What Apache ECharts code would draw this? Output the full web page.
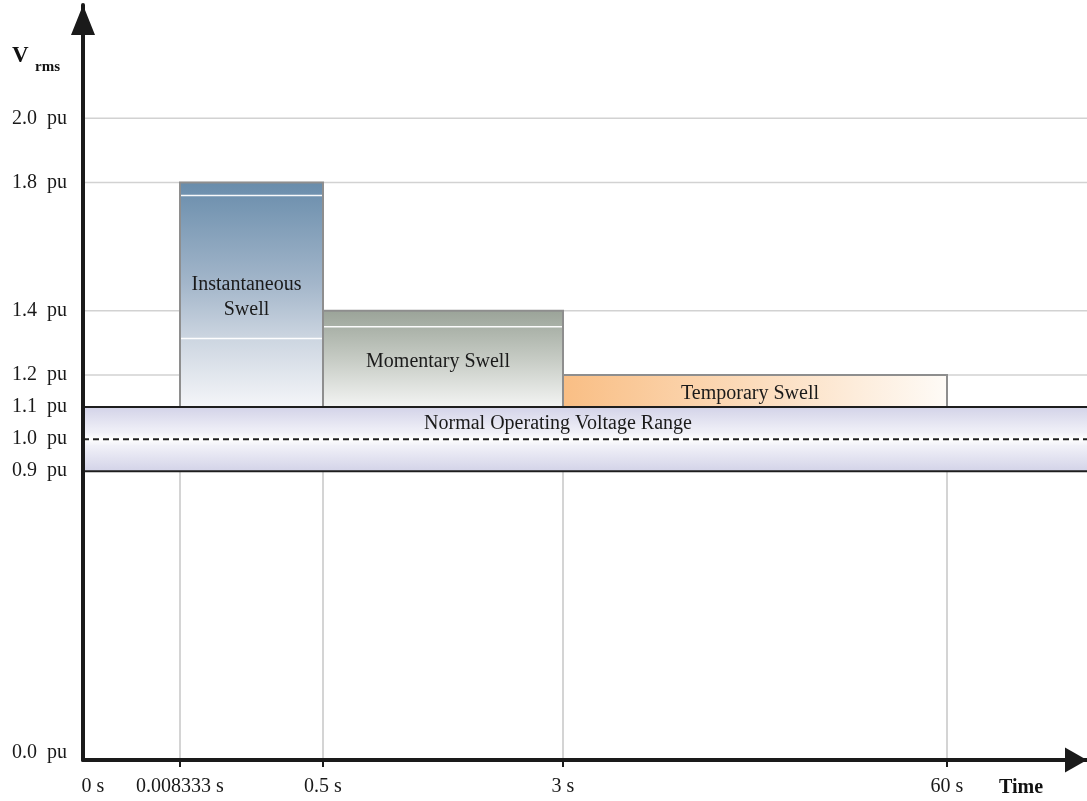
<!DOCTYPE html>
<html>
<head>
<meta charset="utf-8">
<script src="https://cdn.jsdelivr.net/npm/echarts@6/dist/echarts.min.js"></script>
<style>
html,body{margin:0;padding:0;background:#fff;}
#chart{width:1087px;height:801px;}
</style>
</head>
<body>
<div id="chart"></div>
<script>
// ---- data ----
const timeLabels = ['0 s', '0.008333 s', '0.5 s', '3 s', '60 s'];
const timePos = [0, 97, 240, 480, 864];           // schematic (non-uniform) time axis positions
const xAxisEnd = 1004;
const yTickValues = [0, 0.9, 1.0, 1.1, 1.2, 1.4, 1.8, 2.0];
const yGridValues = [1.2, 1.4, 1.8, 2.0];
const swellNames = ['Instantaneous\nSwell', 'Momentary Swell', 'Temporary Swell'];
const swellFrom = [1, 2, 3];   // index into timePos
const swellTo = [2, 3, 4];
const swellLow = [1.1, 1.1, 1.1];
const swellHigh = [1.8, 1.4, 1.2];
const normalRange = [0.9, 1.1];
const nominal = 1.0;
const normalLabel = 'Normal Operating Voltage Range';

// ---- styles ----
const FONT = '"Liberation Serif", "Times New Roman", serif';
const FS = 20;
const swellFills = [
  {type:'linear', x:0, y:0, x2:0, y2:1, colorStops:[
    {offset:0, color:'#688cab'}, {offset:0.45, color:'#a3b6ca'},
    {offset:0.7, color:'#cdd6e1'}, {offset:1, color:'#f5f6f9'}]},
  {type:'linear', x:0, y:0, x2:0, y2:1, colorStops:[
    {offset:0, color:'#9aa398'}, {offset:0.5, color:'#c6cbc4'}, {offset:1, color:'#f4f5f4'}]},
  {type:'linear', x:0, y:0, x2:1, y2:0, colorStops:[
    {offset:0, color:'#f9be84'}, {offset:0.5, color:'#fcdcbc'}, {offset:1, color:'#fefbf7'}]}
];
const swellSheen = [[0.058, 0.695], [0.167], []];

const swellData = swellNames.map((n, i) => [timePos[swellFrom[i]], timePos[swellTo[i]], swellLow[i], swellHigh[i]]);

const chart = echarts.init(document.getElementById('chart'), null, {renderer:'canvas'});

function hLine(color, width, dash) {
  return function (params, api) {
    const a = api.coord([0, api.value(0)]);
    const b = api.coord([xAxisEnd, api.value(0)]);
    return {type:'line', shape:{x1:a[0], y1:a[1], x2:b[0], y2:b[1]},
      style:{stroke:color, lineWidth:width, lineDash:dash || null}};
  };
}

const option = {
  animation: false,
  backgroundColor: '#ffffff',
  grid: {left: 83, right: 0, top: 5, bottom: 41, containLabel: false},
  xAxis: {
    type: 'value', min: 0, max: xAxisEnd, z: 10,
    axisLine: {show: true, symbol: ['none', 'triangle'], symbolSize: [25, 22], symbolOffset: [0, -11],
      lineStyle: {color: '#1a1a1a', width: 4}},
    axisTick: {show: true, customValues: timePos.slice(1), length: 7, inside: false,
      lineStyle: {color: '#1a1a1a', width: 2}},
    axisLabel: {show: true, customValues: timePos, margin: 17,
      fontFamily: FONT, fontSize: FS, color: '#1a1a1a',
      formatter: function (v) {
        const i = timePos.indexOf(v);
        if (i < 0) return '';
        return i === 0 ? '{z|' + timeLabels[i] + '}' : timeLabels[i];
      },
      rich: {z: {fontFamily: FONT, fontSize: FS, color: '#1a1a1a', padding: [0, 0, 0, 20]}}},
    splitLine: {show: false}
  },
  yAxis: {
    type: 'value', min: 0, max: 2.353, z: 10,
    axisLine: {show: true, onZero: false, symbol: ['none', 'triangle'], symbolSize: [24, 30], symbolOffset: [0, -15],
      lineStyle: {color: '#1a1a1a', width: 4}},
    axisTick: {show: false},
    axisLabel: {show: true, customValues: yTickValues, margin: 16,
      fontFamily: FONT, fontSize: FS, color: '#1a1a1a',
      formatter: function (v) {
        const s = v.toFixed(1) + '  pu';
        return v === 0 ? '{z|' + s + '}' : s;
      },
      rich: {z: {fontFamily: FONT, fontSize: FS, color: '#1a1a1a', padding: [0, 0, 14, 0]}}},
    splitLine: {show: false}
  },
  graphic: [
    {type: 'text', left: 12, top: 45, style: {text: 'V', font: 'bold 23px ' + FONT, fill: '#111'}},
    {type: 'text', left: 35, top: 60, style: {text: 'rms', font: 'bold 15px ' + FONT, fill: '#111'}},
    {type: 'text', left: 999, top: 778, style: {text: 'Time', font: 'bold 20px ' + FONT, fill: '#111'}}
  ],
  series: [
    { // light horizontal grid lines
      type: 'custom', z: 1, clip: false,
      data: yGridValues.map(v => [v]),
      renderItem: hLine('#d2d2d2', 1.5)
    },
    { // light vertical lines from the time axis up to the band
      type: 'custom', z: 1, clip: false,
      data: timePos.slice(1).map(p => [p]),
      renderItem: function (params, api) {
        const a = api.coord([api.value(0), 0]);
        const b = api.coord([api.value(0), normalRange[0]]);
        return {type: 'line', shape: {x1: a[0], y1: a[1], x2: b[0], y2: b[1]},
          style: {stroke: '#c6c6c6', lineWidth: 1.5}};
      }
    },
    { // swell regions
      type: 'custom', z: 3, clip: false,
      data: swellData,
      renderItem: function (params, api) {
        const i = params.dataIndex;
        const p0 = api.coord([api.value(0), api.value(3)]);
        const p1 = api.coord([api.value(1), api.value(2)]);
        const w = p1[0] - p0[0], h = p1[1] - p0[1];
        const children = [{type: 'rect', shape: {x: p0[0], y: p0[1], width: w, height: h},
          style: {fill: swellFills[i], stroke: '#8e8e8e', lineWidth: 2}}];
        swellSheen[i].forEach(f => {
          children.push({type: 'line', shape: {x1: p0[0] + 1, y1: p0[1] + f * h, x2: p1[0] - 1, y2: p0[1] + f * h},
            style: {stroke: 'rgba(255,255,255,0.95)', lineWidth: 1.5}});
        });
        children.push({type: 'text', x: p0[0] + w / 2 - 5, y: p0[1] + h / 2 + 3,
          style: {text: swellNames[i], align: 'center', verticalAlign: 'middle',
            font: FS + 'px ' + FONT, fill: '#1a1a1a', lineHeight: 25}});
        return {type: 'group', children: children};
      }
    },
    { // normal operating voltage band
      type: 'custom', z: 4, clip: false,
      data: [[0, xAxisEnd, normalRange[0], normalRange[1], nominal]],
      renderItem: function (params, api) {
        const p0 = api.coord([api.value(0), api.value(3)]);
        const p1 = api.coord([api.value(1), api.value(2)]);
        const pm = api.coord([api.value(0), api.value(4)]);
        const pe = api.coord([api.value(1), api.value(4)]);
        const pl = api.coord([475, (api.value(3) + api.value(4)) / 2]);
        return {type: 'group', children: [
          {type: 'rect', shape: {x: p0[0], y: p0[1], width: p1[0] - p0[0], height: p1[1] - p0[1]},
            style: {fill: {type: 'linear', x: 0, y: 0, x2: 0, y2: 1, colorStops: [
              {offset: 0, color: '#d3d3e8'}, {offset: 0.4, color: '#f1f1f8'},
              {offset: 0.5, color: '#ffffff'}, {offset: 0.6, color: '#f1f1f8'},
              {offset: 1, color: '#d3d3e8'}]}}},
          {type: 'line', shape: {x1: p0[0], y1: p0[1], x2: p1[0], y2: p0[1]},
            style: {stroke: '#1e1e1e', lineWidth: 2}},
          {type: 'line', shape: {x1: p0[0], y1: p1[1], x2: p1[0], y2: p1[1]},
            style: {stroke: '#1e1e1e', lineWidth: 2}},
          {type: 'line', shape: {x1: pm[0], y1: pm[1], x2: pe[0], y2: pe[1]},
            style: {stroke: '#1e1e1e', lineWidth: 2, lineDash: [6, 4]}},
          {type: 'text', x: pl[0], y: pl[1] + 1,
            style: {text: normalLabel, align: 'center', verticalAlign: 'middle',
              font: FS + 'px ' + FONT, fill: '#1a1a1a'}}
        ]};
      }
    }
  ]
};
chart.setOption(option);
</script>
</body>
</html>
